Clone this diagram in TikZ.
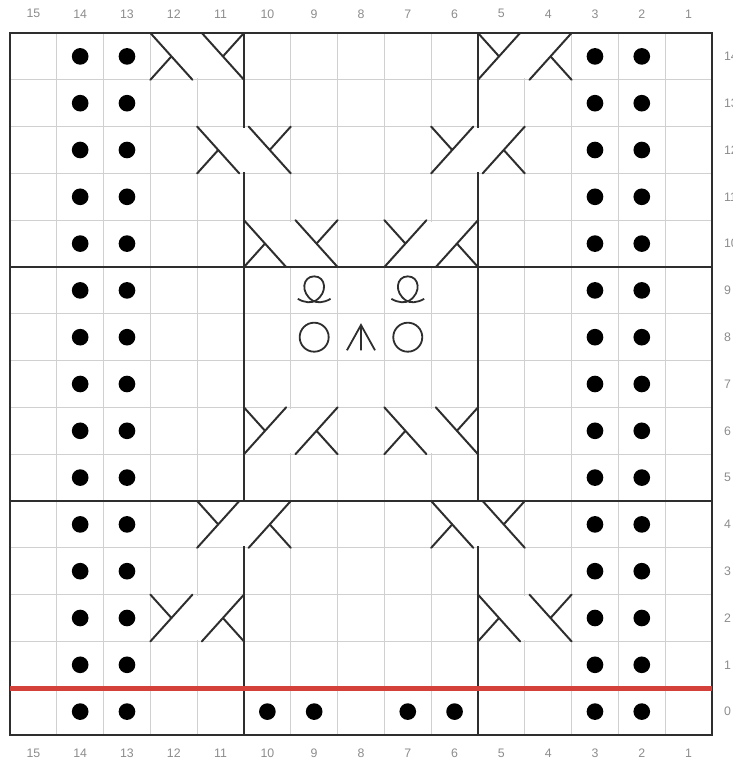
\documentclass[tikz,border=0pt]{standalone}
\usepackage{fontspec}
\setmainfont{Liberation Sans}
\usepackage{tikz}
\usetikzlibrary{positioning}
\definecolor{ink}{HTML}{2E2E2E}
\definecolor{gridgray}{HTML}{D0D0D0}
\definecolor{numgray}{HTML}{8C8C8C}
\definecolor{redrow}{HTML}{D4403A}

\begin{document}
\begin{tikzpicture}[x=1cm,y=1cm,
   fine/.style={draw=gridgray,line width=0.6pt},
   heavy/.style={draw=ink,line width=1.2pt},
   cab/.style={draw=ink,line width=1.2pt,line cap=round},
   sym/.style={draw=ink,line width=1.1pt},
   num/.style={text=numgray,inner sep=0pt,font=\fontsize{7.5}{9}\selectfont},
   cableA/.pic={\fill[white] (0.03,0.03) rectangle (1.97,0.97);
     \draw[cab] (0,1) -- (0.9,0) (0,0) -- (0.45,0.5) (1.1,1) -- (2,0) (2,1) -- (1.55,0.5);},
   cableB/.pic={\fill[white] (0.03,0.03) rectangle (1.97,0.97);
     \draw[cab] (2,1) -- (1.1,0) (2,0) -- (1.55,0.5) (0.9,1) -- (0,0) (0,1) -- (0.45,0.5);},
   loopst/.pic={\draw[sym] (-0.35,-0.18) .. controls (-0.2,-0.27) and (-0.05,-0.27) .. (0.03,-0.22)
     .. controls (0.3,-0.05) and (0.25,0.3) .. (0,0.3)
     .. controls (-0.25,0.3) and (-0.3,-0.05) .. (-0.03,-0.22)
     .. controls (0.05,-0.27) and (0.2,-0.27) .. (0.35,-0.18);},
   yarnover/.pic={\draw[sym] (0,0) circle (0.31);},
   cdd/.pic={\draw[sym] (-0.3,-0.28) -- (0,0.26) -- (0.3,-0.28) (0,0.26) -- (0,-0.28);}]
  \useasboundingbox (-0.213,-0.534) rectangle (15.447,15.705);
  \clip (-0.213,-0.534) rectangle (15.447,15.705);
  % grid
  \draw[fine] (0,0) grid (15,15);
  \draw[heavy] (0,0) rectangle (15,15) (0,5) -- (15,5) (0,10) -- (15,10) (5,0) -- (5,15) (10,0) -- (10,15);
  % numbers
  \foreach \c in {1,...,15} {
    \node[num] (t\c) at (15.5-\c,15.41) {\c};
    \node[num] (b\c) at (15.5-\c,-0.385) {\c};
  }
  \foreach \r in {0,...,14}
    \node[num,anchor=west] (r\r) at (15.25,\r+0.5) {\r};
  % cables
  \foreach \x/\y/\t in {3/14/A,10/14/B,4/12/A,9/12/B,5/10/A,8/10/B,5/6/B,8/6/A,4/4/B,9/4/A,3/2/B,10/2/A}
    \pic at (\x,\y) {cable\t};
  % purl dots
  \foreach \c in {14,13,3,2}
    \foreach \r in {0,...,14}
      \fill (15.5-\c,\r+0.5) circle (0.178);
  \foreach \c in {10,9,7,6}
    \fill (15.5-\c,0.5) circle (0.178);
  % centre motif
  \pic at (6.5,9.5) {loopst};
  \pic at (8.5,9.5) {loopst};
  \pic at (6.5,8.5) {yarnover};
  \pic at (7.5,8.5) {cdd};
  \pic at (8.5,8.5) {yarnover};
  % marker row
  \draw[redrow,line width=3pt] (0,1) -- (15,1);
\end{tikzpicture}
\end{document}
